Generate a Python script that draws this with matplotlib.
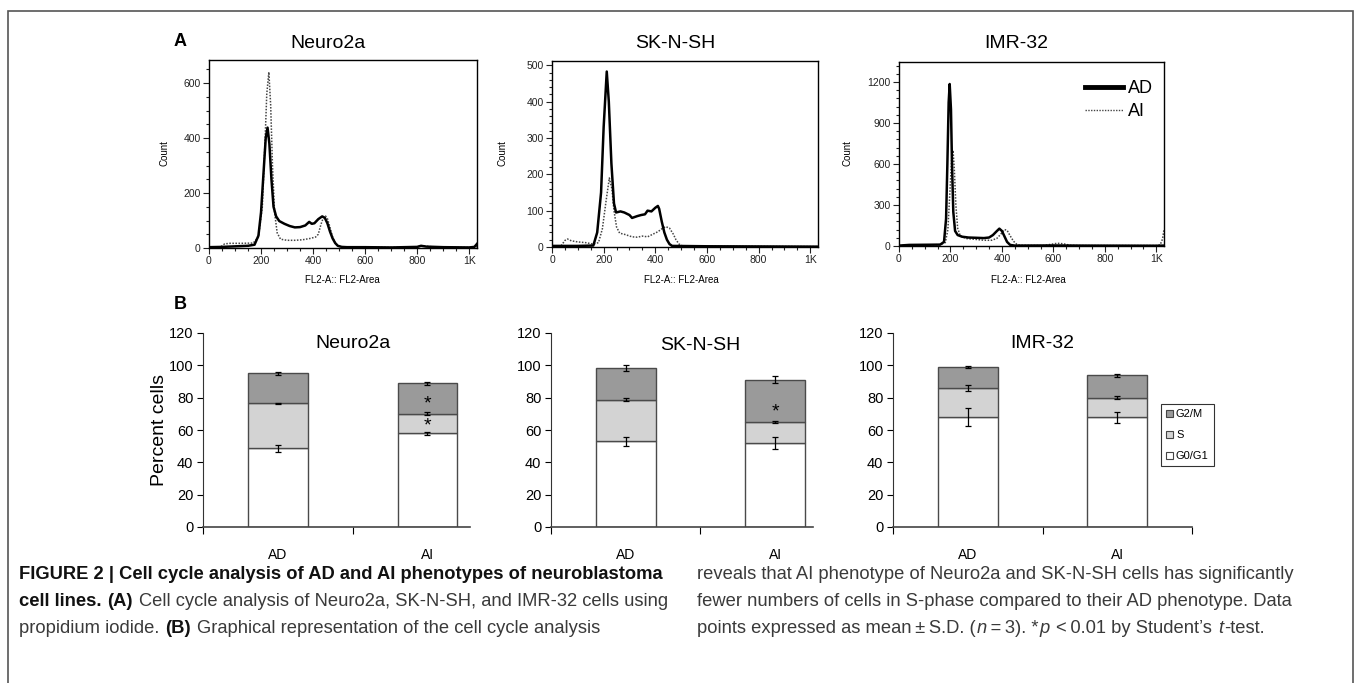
import numpy as np
import matplotlib
matplotlib.use('Agg')
import matplotlib.pyplot as plt
from matplotlib import font_manager
from matplotlib import transforms
from matplotlib.ticker import MultipleLocator
from matplotlib.patches import Patch, Rectangle
from matplotlib.lines import Line2D

# ---- histogram data (FL2-Area channel, count) ----
n2a_ad_x = [0, 50, 100, 150, 175, 190, 200, 210, 218, 225, 232, 240, 248, 258, 270, 290, 310, 330, 350, 370,
            385, 395, 405, 420, 435, 445, 455, 465, 475, 485, 495, 510, 530, 600, 700, 800, 815, 835, 900, 1000,
            1020, 1030]
n2a_ad_y = [3, 4, 6, 8, 12, 45, 130, 280, 400, 438, 380, 250, 150, 115, 98, 88, 80, 75, 76, 82,
            95, 88, 90, 105, 115, 110, 90, 60, 35, 18, 8, 4, 3, 3, 2, 4, 8, 5, 3, 2,
            4, 15]
n2a_ai_x = [0, 45, 60, 80, 120, 170, 190, 205, 215, 222, 230, 237, 244, 252, 262, 275, 300, 330, 360, 390,
            410, 420, 430, 440, 448, 456, 465, 475, 485, 495, 510, 530, 600, 700, 800, 820, 850, 900, 1000, 1030]
n2a_ai_y = [3, 4, 15, 17, 17, 18, 40, 150, 380, 560, 640, 520, 300, 130, 55, 32, 28, 28, 30, 35,
            40, 50, 85, 112, 116, 105, 75, 40, 18, 8, 4, 3, 3, 2, 4, 8, 5, 3, 2, 5]

sk_ad_x = [0, 100, 160, 175, 190, 200, 212, 220, 230, 240, 248, 265, 280, 300, 310, 330, 345, 360, 370, 385,
           400, 410, 415, 425, 435, 445, 455, 465, 600, 1030]
sk_ad_y = [3, 3, 4, 40, 150, 330, 483, 400, 230, 120, 95, 98, 95, 88, 80, 85, 88, 90, 100, 98,
           108, 113, 105, 70, 40, 20, 8, 3, 2, 1]
sk_ai_x = [0, 35, 50, 60, 75, 100, 130, 160, 180, 195, 210, 222, 232, 240, 250, 262, 280, 310, 330, 350,
           370, 390, 410, 425, 440, 455, 470, 480, 492, 505, 600, 1030]
sk_ai_y = [2, 3, 18, 22, 17, 14, 12, 8, 12, 50, 130, 190, 160, 100, 55, 38, 35, 28, 27, 30,
           28, 35, 42, 50, 56, 52, 35, 20, 8, 3, 2, 1]

imr_ad_x = [0, 40, 160, 175, 183, 188, 193, 197, 202, 206, 211, 218, 228, 245, 270, 300, 330, 350, 365, 378,
            390, 400, 410, 420, 432, 450, 600, 700, 1000, 1030]
imr_ad_y = [3, 8, 10, 30, 200, 600, 1050, 1185, 1000, 600, 250, 110, 80, 68, 62, 60, 58, 62, 80, 105,
            127, 110, 70, 30, 8, 3, 4, 3, 2, 3]
imr_ai_x = [0, 40, 100, 160, 180, 190, 198, 205, 210, 215, 221, 228, 238, 260, 300, 330, 360, 380, 395, 410,
            420, 432, 445, 458, 470, 560, 590, 615, 640, 665, 700, 1000, 1015, 1024, 1030]
imr_ai_y = [2, 6, 8, 10, 25, 120, 400, 650, 700, 560, 300, 130, 75, 55, 48, 42, 42, 55, 85, 120,
            115, 75, 35, 12, 5, 3, 12, 20, 16, 5, 3, 3, 8, 50, 120]

cell_lines = ['Neuro2a', 'SK-N-SH', 'IMR-32']
x_ticks = [0, 200, 400, 600, 800, 1000]
x_ticklabels = ['0', '200', '400', '600', '800', '1K']

# ---- cell cycle percentages, [AD, AI] per cell line ----
groups = ['AD', 'AI']
phases = ['G0/G1', 'S', 'G2/M']
g0g1 = {'Neuro2a': [48.7, 57.9], 'SK-N-SH': [52.9, 51.9], 'IMR-32': [67.9, 67.9]}
s_phase = {'Neuro2a': [27.9, 12.3], 'SK-N-SH': [25.9, 13.1], 'IMR-32': [18.2, 12.1]}
g2m = {'Neuro2a': [18.4, 18.6], 'SK-N-SH': [19.6, 26.2], 'IMR-32': [12.9, 13.8]}
g0g1_sd = {'Neuro2a': [2.0, 0.9], 'SK-N-SH': [2.8, 3.6], 'IMR-32': [5.6, 3.5]}
s_sd = {'Neuro2a': [0.3, 0.9], 'SK-N-SH': [1.0, 0.7], 'IMR-32': [2.0, 1.0]}
g2m_sd = {'Neuro2a': [1.1, 1.1], 'SK-N-SH': [1.7, 2.3], 'IMR-32': [0.6, 1.0]}
# significant marks: (cell line, group index, y value)
stars = [('Neuro2a', 1, 78.6), ('Neuro2a', 1, 65.2), ('SK-N-SH', 1, 73.5)]

# ---- fonts ----
names = {f.name for f in font_manager.fontManager.ttflist}
SANS = 'Liberation Sans'
NARROW = 'Liberation Sans Narrow' if 'Liberation Sans Narrow' in names else 'Liberation Sans'
plt.rcParams['font.family'] = [SANS, 'DejaVu Sans']

W, H = 1354, 683
fig = plt.figure(figsize=(W / 100, H / 100), dpi=100)


def fx(px):
    return px / W


def fy(py):
    return 1 - py / H


def add_ax(l, t, r, b):
    return fig.add_axes([l / W, 1 - b / H, (r - l) / W, (b - t) / H])


# outer frame
fig.patches.append(Rectangle((fx(8), fy(700)), fx(1353) - fx(8), fy(10.5) - fy(700),
                             transform=fig.transFigure, fill=False, edgecolor='#555555', lw=1.2))

# ---------------- panel A: histograms ----------------
hist_boxes = [(209, 60, 477, 248), (552, 61, 818, 247), (899, 62, 1164, 246)]
hist_ymax = [684, 512, 1346]
hist_ystep = [200, 100, 300]
hist_yminor = [50, 20, 60]
hist_data = [(n2a_ad_x, n2a_ad_y, n2a_ai_x, n2a_ai_y),
             (sk_ad_x, sk_ad_y, sk_ai_x, sk_ai_y),
             (imr_ad_x, imr_ad_y, imr_ai_x, imr_ai_y)]
title_x = [328, 675, 1016]
count_x = [165, 503, 848]
xlab_x = [342, 681, 1028]

for i, name in enumerate(cell_lines):
    ax = add_ax(*hist_boxes[i])
    adx, ady, aix, aiy = hist_data[i]
    ax.plot(aix, aiy, color='#444444', lw=1.1, ls=(0, (1, 1)))
    ax.plot(adx, ady, color='black', lw=1.8)
    ax.set_xlim(0, 1030)
    ax.set_ylim(0, hist_ymax[i])
    ax.set_xticks(x_ticks)
    ax.set_xticklabels(x_ticklabels)
    ax.set_yticks(np.arange(0, hist_ymax[i], hist_ystep[i]))
    ax.xaxis.set_minor_locator(MultipleLocator(50))
    ax.yaxis.set_minor_locator(MultipleLocator(hist_yminor[i]))
    ax.tick_params(which='both', direction='out', labelsize=7.5, width=0.8, pad=2, colors='#222222')
    ax.tick_params(which='major', length=4)
    ax.tick_params(which='minor', length=2.2)
    for sp in ax.spines.values():
        sp.set_linewidth(1.0)
    fig.text(fx(title_x[i]), fy(43), name, fontsize=14, ha='center', va='center')
    fig.text(fx(count_x[i]), fy(153), 'Count', fontsize=7, rotation=90, ha='center', va='center')
    fig.text(fx(xlab_x[i]), fy(280), 'FL2-A:: FL2-Area', fontsize=7, ha='center', va='center')
    if i == 2:
        ax.legend([Line2D([], [], color='black', lw=3.5),
                   Line2D([], [], color='#444444', lw=1, ls=(0, (1, 1)))],
                  ['AD', 'AI'], loc='upper left', bbox_to_anchor=(fx(1085), fy(80)),
                  bbox_transform=fig.transFigure, frameon=False, fontsize=13,
                  handlelength=2.1, handletextpad=0.3, labelspacing=0.35,
                  borderpad=0, borderaxespad=0)

fig.text(fx(180), fy(42), 'A', fontsize=13, fontweight='bold', ha='center', va='center')
fig.text(fx(180), fy(305), 'B', fontsize=13, fontweight='bold', ha='center', va='center')

# ---------------- panel B: stacked bars ----------------
bar_boxes = [(203, 333, 470, 527), (551, 333, 813, 527), (893, 333, 1192, 527)]
bar_xmax = [1.284, 1.254, 1.5]
bar_title_y = [343, 345, 344]
phase_colors = {'G0/G1': 'white', 'S': '#d3d3d3', 'G2/M': '#9a9a9a'}
xpos = np.arange(len(groups))

for i, name in enumerate(cell_lines):
    ax = add_ax(*bar_boxes[i])
    bottom = np.zeros(2)
    for phase, vals, sds in [('G0/G1', g0g1, g0g1_sd), ('S', s_phase, s_sd), ('G2/M', g2m, g2m_sd)]:
        v = np.array(vals[name])
        ax.bar(xpos, v, 0.4, bottom=bottom, color=phase_colors[phase], edgecolor='#4a4a4a', linewidth=1.0)
        top = bottom + v
        ax.errorbar(xpos, top, yerr=sds[name], fmt='none', ecolor='black', elinewidth=0.9,
                    capsize=2.5, capthick=0.9, zorder=4)
        bottom = top
    for cl, gi, yv in stars:
        if cl == name:
            ax.text(xpos[gi], yv - 2.5, '*', fontsize=14, ha='center', va='center', zorder=5)
    ax.set_xlim(-0.5, bar_xmax[i])
    ax.set_ylim(0, 120)
    for sp in ['top', 'right']:
        ax.spines[sp].set_visible(False)
    ax.spines['left'].set_color('#333333')
    ax.spines['bottom'].set_color('#444444')
    ax.spines['bottom'].set_linewidth(1.2)
    ax.set_yticks(range(0, 121, 20))
    ax.set_xticks(xpos)
    ax.set_xticklabels(groups)
    minor = [m for m in [-0.5, 0.5, 1.5] if m <= bar_xmax[i] + 1e-9]
    ax.set_xticks(minor, minor=True)
    ax.tick_params(axis='y', direction='out', length=4, width=0.8, pad=3, labelsize=10.5)
    ax.tick_params(axis='x', which='major', length=0, pad=15, labelsize=10)
    ax.tick_params(axis='x', which='minor', direction='out', length=5, width=0.8)
    for lab in ax.get_yticklabels() + ax.get_xticklabels():
        lab.set_fontfamily([NARROW, 'DejaVu Sans'])
    tr = transforms.blended_transform_factory(ax.transData, fig.transFigure)
    ax.text(0.5, fy(bar_title_y[i]), name, transform=tr, fontsize=14, ha='center', va='center')

fig.text(fx(160), fy(430), 'Percent cells', rotation=90, fontsize=14, ha='center', va='center',
         family=[NARROW, 'DejaVu Sans'])

leg_handles = [Patch(facecolor=phase_colors[p], edgecolor='#444444', lw=0.8) for p in ['G2/M', 'S', 'G0/G1']]
leg = fig.legend(leg_handles, ['G2/M', 'S', 'G0/G1'], loc='upper left',
                 bbox_to_anchor=(fx(1161), fy(404)), frameon=True, fancybox=False,
                 edgecolor='black', handlelength=0.6, handleheight=0.6,
                 handletextpad=0.3, labelspacing=1.0, borderpad=0.45, borderaxespad=0,
                 prop={'family': [NARROW, 'DejaVu Sans'], 'size': 8})
leg.get_frame().set_linewidth(0.8)

# ---------------- caption ----------------
cap_left = [
    [("FIGURE 2 | Cell cycle analysis of AD and AI phenotypes of neuroblastoma", 'b', False)],
    [("cell lines.", 'b', False), ("(A)", 'b', True),
     ("Cell cycle analysis of Neuro2a, SK-N-SH, and IMR-32 cells using", 'r', True)],
    [("propidium iodide.", 'r', False), ("(B)", 'b', True),
     ("Graphical representation of the cell cycle analysis", 'r', True)],
]
cap_right = [
    [("reveals that AI phenotype of Neuro2a and SK-N-SH cells has significantly", 'r', False)],
    [("fewer numbers of cells in S-phase compared to their AD phenotype. Data", 'r', False)],
    [("points expressed as mean\u2009\u00b1\u2009S.D. (", 'r', False), ("n", 'i', False),
     ("\u2009=\u20093). *", 'r', False), ("p", 'i', False), ("<\u20090.01 by Student\u2019s", 'r', True),
     ("t", 'i', True), ("-test.", 'r', False)],
]
cap_size = 13.2
renderer = fig.canvas.get_renderer()


def text_kw(kind):
    kw = dict(fontsize=cap_size, family=[NARROW, 'DejaVu Sans'], color='#3a3a3a')
    if kind == 'b':
        kw.update(fontweight='bold', color='#111111')
    if kind == 'i':
        kw.update(fontstyle='italic')
    return kw


def space_width(kind):
    a = fig.text(0, 0, 'a a', **text_kw(kind))
    b = fig.text(0, 0, 'aa', **text_kw(kind))
    w = a.get_window_extent(renderer).width - b.get_window_extent(renderer).width
    a.remove()
    b.remove()
    return w


def caption_line(x_px, y_px, parts):
    x = x_px
    for txt, kind, gap in parts:
        if gap:
            x += space_width(kind)
        t = fig.text(fx(x), fy(y_px), txt, va='baseline', ha='left', **text_kw(kind))
        x += t.get_window_extent(renderer).width + 0.8


for j, parts in enumerate(cap_left):
    caption_line(19, 579 + 27 * j, parts)
for j, parts in enumerate(cap_right):
    caption_line(697, 579 + 27 * j, parts)

fig.savefig('out.png', dpi=100)
